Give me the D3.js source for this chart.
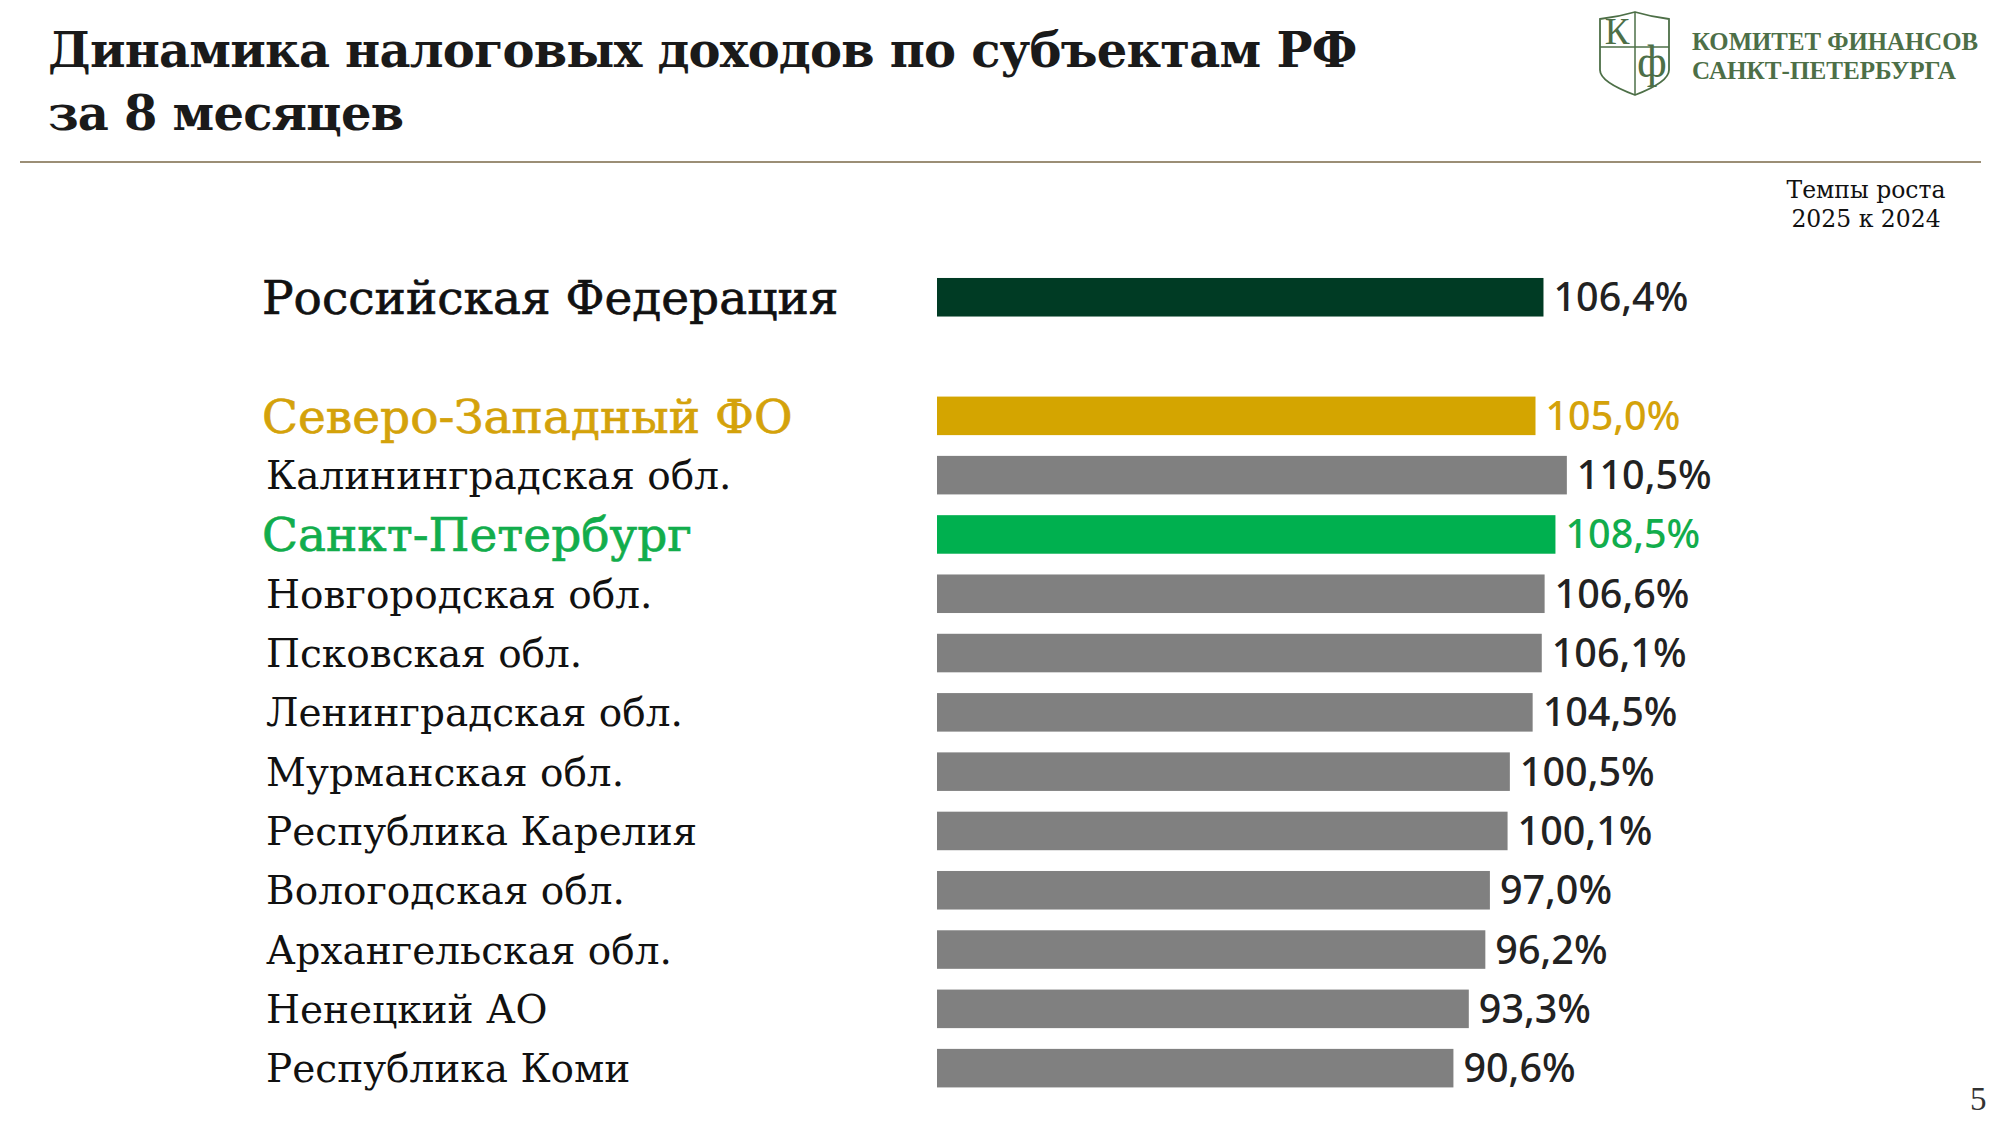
<!DOCTYPE html>
<html lang="ru">
<head>
    <meta charset="UTF-8">
    <title>Динамика налоговых доходов по субъектам РФ за 8 месяцев</title>
    <script src="https://d3js.org/d3.v7.min.js"></script>
    <style>
        body { margin: 0; background: #fff; }
        .title { font-family: "DejaVu Serif", serif; font-weight: bold; font-size: 48px; letter-spacing: -0.8px; fill: #1a1a1a; }
        .logo-text { font-family: "Liberation Serif", serif; font-weight: bold; font-size: 26px; fill: #4d6f47; }
        .note { font-family: "DejaVu Serif", serif; font-size: 23.5px; fill: #111; text-anchor: middle; }
        .row-label { font-family: "DejaVu Serif", serif; }
        .value-label { font-family: "Noto Sans", sans-serif; font-weight: 500; font-size: 39.5px; }
        .page-num { font-family: "Liberation Serif", serif; font-size: 33px; fill: #333; }
    </style>
</head>
<body>
<div id="chart-container"></div>
<script>
// Data
const regions = [
    "Российская Федерация",
    "Северо-Западный ФО",
    "Калининградская обл.",
    "Санкт-Петербург",
    "Новгородская обл.",
    "Псковская обл.",
    "Ленинградская обл.",
    "Мурманская обл.",
    "Республика Карелия",
    "Вологодская обл.",
    "Архангельская обл.",
    "Ненецкий АО",
    "Республика Коми"
];
const growthRates = [106.4, 105.0, 110.5, 108.5, 106.6, 106.1, 104.5, 100.5, 100.1, 97.0, 96.2, 93.3, 90.6];
const rowTypes = ["country", "district", "region", "city", "region", "region", "region",
                  "region", "region", "region", "region", "region", "region"];

// Look of each row type
const rowStyle = {
    country:  { bar: "#003b24", label: "#111111", value: "#222222", size: 47, stroke: 0.7 },
    district: { bar: "#d4a500", label: "#d4a20a", value: "#d4a20a", size: 47, stroke: 0.7 },
    city:     { bar: "#00b04f", label: "#12ad4c", value: "#12ad4c", size: 47, stroke: 0.7 },
    region:   { bar: "#808080", label: "#111111", value: "#222222", size: 39, stroke: 0 }
};

const width = 2000, height = 1125;

const svg = d3.select('#chart-container')
    .append('svg')
    .attr('width', width)
    .attr('height', height);

// one empty slot after the country row
const rows = regions.map((name, i) => ({
    name: name,
    value: growthRates[i],
    type: rowTypes[i],
    slot: i === 0 ? 0 : i + 1
}));

const xScale = d3.scaleLinear()
    .domain([0, 120])
    .range([937, 937 + 684]);

const yScale = d3.scaleBand()
    .domain(d3.range(14))
    .range([267.6, 1097.8])
    .paddingInner(0.35)
    .paddingOuter(0.175);

const fmt = v => d3.format(".1f")(v).replace(".", ",") + "%";

// Title
svg.append('text').attr('class', 'title').attr('x', 48).attr('y', 67).text("Динамика налоговых доходов по субъектам РФ");
svg.append('text').attr('class', 'title').attr('x', 48).attr('y', 130).text("за 8 месяцев");

// Divider under the header
svg.append('line')
    .attr('x1', 20).attr('x2', 1981)
    .attr('y1', 162).attr('y2', 162)
    .attr('stroke', '#7a6848')
    .attr('stroke-width', 1.5);

// Logo: shield with К and ф
function drawLogo(g) {
    const green = "#4d6f47";
    g.append('path')
        .attr('d', "M1600,19 Q1618,17 1635,12 Q1652,17 1669,19 L1669,70 Q1669,82 1635,95 Q1600,82 1600,70 Z")
        .attr('fill', 'none').attr('stroke', green).attr('stroke-width', 1.8);
    g.append('line').attr('x1', 1635).attr('x2', 1635).attr('y1', 12).attr('y2', 95)
        .attr('stroke', green).attr('stroke-width', 1.5);
    g.append('line').attr('x1', 1600).attr('x2', 1669).attr('y1', 47).attr('y2', 47)
        .attr('stroke', green).attr('stroke-width', 1.5);
    g.append('text').attr('x', 1617).attr('y', 44).attr('text-anchor', 'middle')
        .style('font-family', '"Liberation Serif", serif').style('font-size', '37px').attr('fill', green)
        .text("К");
    g.append('text').attr('x', 1652).attr('y', 77).attr('text-anchor', 'middle')
        .style('font-family', '"Liberation Serif", serif').style('font-size', '46px').attr('fill', green)
        .text("ф");
    g.append('text').attr('class', 'logo-text').attr('x', 1692).attr('y', 50)
        .attr('textLength', 286).attr('lengthAdjust', 'spacingAndGlyphs').text("КОМИТЕТ ФИНАНСОВ");
    g.append('text').attr('class', 'logo-text').attr('x', 1692).attr('y', 79)
        .attr('textLength', 264).attr('lengthAdjust', 'spacingAndGlyphs').text("САНКТ-ПЕТЕРБУРГА");
}
drawLogo(svg.append('g'));

// Column note
svg.append('text').attr('class', 'note').attr('x', 1866).attr('y', 198).text("Темпы роста");
svg.append('text').attr('class', 'note').attr('x', 1866).attr('y', 227).text("2025 к 2024");

// Bars
svg.selectAll('.bar')
    .data(rows)
    .enter()
    .append('rect')
    .attr('class', 'bar')
    .attr('x', xScale(0))
    .attr('y', d => yScale(d.slot))
    .attr('width', d => xScale(d.value) - xScale(0))
    .attr('height', yScale.bandwidth())
    .attr('fill', d => rowStyle[d.type].bar);

// Row names
svg.selectAll('.row-label')
    .data(rows)
    .enter()
    .append('text')
    .attr('class', 'row-label')
    .attr('x', d => d.type === 'region' ? 266 : 262)
    .attr('y', d => yScale(d.slot) + yScale.bandwidth() / 2 + rowStyle[d.type].size * 0.36)
    .style('font-size', d => rowStyle[d.type].size + 'px')
    .attr('fill', d => rowStyle[d.type].label)
    .attr('stroke', d => rowStyle[d.type].label)
    .attr('stroke-width', d => rowStyle[d.type].stroke)
    .text(d => d.name);

// Values at the bar ends
svg.selectAll('.value-label')
    .data(rows)
    .enter()
    .append('text')
    .attr('class', 'value-label')
    .attr('x', d => xScale(d.value) + 10)
    .attr('y', d => yScale(d.slot) + yScale.bandwidth() / 2 + 14)
    .attr('fill', d => rowStyle[d.type].value)
    .text(d => fmt(d.value));

// Page number
svg.append('text').attr('class', 'page-num').attr('x', 1970).attr('y', 1110).text("5");
</script>
</body>
</html>
